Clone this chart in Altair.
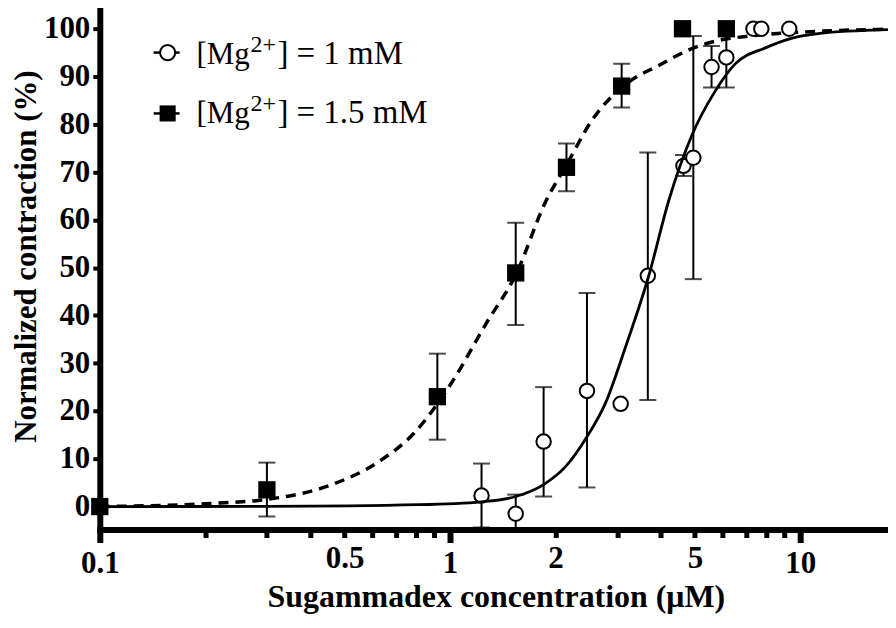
import altair as alt
import pandas as pd

# ---- data ----
sq_conc = [0.1, 0.3, 0.92, 1.54, 2.15, 3.09, 4.61, 6.15]
sq_resp = [0, 3.5, 23, 48.9, 71, 88, 100, 100]
sq_lo = [None, -2.1, 14, 38, 66, 83.5, None, None]
sq_hi = [None, 9.2, 32, 59.4, 76, 92.7, None, None]

ci_conc = [0.1, 1.23, 1.54, 1.85, 2.46, 3.07, 3.67, 4.64, 4.95, 5.58, 6.15, 7.35, 7.74, 9.3]
ci_resp = [0, 2.3, -1.5, 13.6, 24.2, 21.5, 48.3, 71.3, 73, 92, 94, 100, 100, 100]
ci_lo = [None, -4.4, -5.5, 2.1, 4, None, 22.3, 69.2, 47.6, 87.7, 87.7, None, None, None]
ci_hi = [None, 9, 2.5, 25, 44.7, None, 74.1, 73.6, 98.5, 96.4, 100.3, None, None, None]

fit15_conc = [0.1, 0.2, 0.3, 0.46, 0.62, 0.79, 1.01, 1.27, 1.54, 1.88, 2.15, 2.54, 3.22, 3.94, 4.89, 5.8, 7.2, 10.7, 17.8]
fit15_resp = [0, 0.6, 1.5, 4.6, 9.2, 15.4, 25.9, 38.4, 48.5, 64, 71.5, 80.8, 88.7, 92.3, 95.8, 97.5, 98.5, 99.4, 99.9]

fit1_conc = [0.1, 0.3, 0.82, 1.23, 1.54, 1.85, 2.14, 2.46, 2.78, 3.17, 3.69, 4.21, 4.89, 5.72, 6.53, 7.95, 9.43, 11.25, 17.8]
fit1_resp = [0, 0.05, 0.4, 1.0, 2.1, 4.6, 8.4, 14.6, 21.7, 33.4, 48.2, 64, 77.5, 87, 92.7, 96, 98, 99, 99.8]

x_ticks = [0.1, 0.2, 0.3, 0.4, 0.5, 0.6, 0.7, 0.8, 0.9, 1, 2, 3, 4, 5, 6, 7, 8, 9, 10]
y_ticks = [0, 10, 20, 30, 40, 50, 60, 70, 80, 90, 100]

legend_labels = ["] = 1 mM", "] = 1.5 mM"]

# ---- tables ----
sq = pd.DataFrame({"conc": sq_conc, "resp": sq_resp, "lo": sq_lo, "hi": sq_hi})
ci = pd.DataFrame({"conc": ci_conc, "resp": ci_resp, "lo": ci_lo, "hi": ci_hi})
err = pd.concat([sq, ci]).dropna(subset=["lo"])
fit15 = pd.DataFrame({"conc": fit15_conc, "resp": fit15_resp})
fit1 = pd.DataFrame({"conc": fit1_conc, "resp": fit1_resp})
one = pd.DataFrame({"k": [0]})

FONT = "Liberation Serif"
major = "abs(log(datum.value) / LN10 - round(log(datum.value) / LN10)) < 0.001"

x_axis = alt.Axis(
    values=x_ticks,
    labelExpr="indexof([0.1, 0.5, 1, 2, 5, 10], datum.value) >= 0 ? format(datum.value, '~g') : ''",
    tickSize={"condition": {"test": major, "value": 13}, "value": 8},
    tickWidth={"condition": {"test": major, "value": 6}, "value": 5},
    labelPadding=6,
    tickColor="black",
    domainWidth=6, domainColor="black", domainCap="square",
    labelFont=FONT, labelFontSize=31, labelFontWeight="bold", labelColor="black",
    labelFlush=False, labelOverlap=False,
    title="Sugammadex concentration (μM)",
    titleFont=FONT, titleFontSize=32, titleFontWeight="bold", titleColor="black",
    titleX=397, titleY=77, titleBaseline="alphabetic", titleAlign="center",
    grid=False,
)
y_axis = alt.Axis(
    values=y_ticks,
    tickSize=7, tickWidth=4, tickColor="black",
    domainWidth=6, domainColor="black", domainCap="square",
    labelFont=FONT, labelFontSize=31, labelFontWeight="bold", labelColor="black",
    labelPadding=3, labelFlush=False,
    title="Normalized contraction (%)",
    titleFont=FONT, titleFontSize=31, titleFontWeight="bold", titleColor="black",
    titleAngle=270, titleX=-64, titleY=248, titleBaseline="alphabetic", titleAlign="center",
    grid=False,
)

x_scale = alt.Scale(type="log", domain=[0.1, 17.8], nice=False)
y_scale = alt.Scale(domain=[-4.8, 104.2], nice=False, zero=False)

X = alt.X("conc:Q", scale=x_scale, axis=x_axis)
Y = alt.Y("resp:Q", scale=y_scale, axis=y_axis)

rules = alt.Chart(err).mark_rule(color="black", strokeWidth=2, clip=True).encode(
    x=X, y=alt.Y("lo:Q", scale=y_scale, axis=y_axis), y2="hi:Q"
)
caps_lo = alt.Chart(err).mark_tick(color="black", orient="horizontal", size=17, thickness=2, clip=True).encode(
    x=X, y=alt.Y("lo:Q", scale=y_scale, axis=y_axis)
)
caps_hi = alt.Chart(err).mark_tick(color="black", orient="horizontal", size=17, thickness=2, clip=True).encode(
    x=X, y=alt.Y("hi:Q", scale=y_scale, axis=y_axis)
)
circles = alt.Chart(ci).mark_point(
    shape="circle", filled=True, fill="white", stroke="black", strokeWidth=2, size=210, opacity=1
).encode(x=X, y=Y)
line15 = alt.Chart(fit15).mark_line(
    color="black", strokeWidth=3.5, strokeDash=[10, 7], interpolate="monotone"
).encode(x=X, y=Y)
line1 = alt.Chart(fit1).mark_line(
    color="black", strokeWidth=2.8, interpolate="monotone"
).encode(x=X, y=Y)
squares = alt.Chart(sq).mark_square(color="black", size=300, opacity=1).encode(x=X, y=Y)

# ---- legend (custom, in pixel space) ----
def leg_row(y_main, y_sup, y_sym, label, filled):
    base = alt.Chart(one)
    line = base.mark_rule(color="black", strokeWidth=2.5).encode(
        x=alt.value(54), x2=alt.value(80), y=alt.value(y_sym)
    )
    if filled:
        sym = base.mark_square(color="black", size=260, opacity=1).encode(
            x=alt.value(68), y=alt.value(y_sym)
        )
    else:
        sym = base.mark_point(shape="circle", filled=True, fill="white", stroke="black",
                              strokeWidth=2, size=230, opacity=1).encode(
            x=alt.value(68), y=alt.value(y_sym)
        )
    t1 = base.mark_text(text="[Mg", font=FONT, fontSize=31, align="left", baseline="alphabetic",
                        color="black").encode(x=alt.value(97), y=alt.value(y_main))
    t2 = base.mark_text(text="2+", font=FONT, fontSize=24, align="left", baseline="alphabetic",
                        color="black").encode(x=alt.value(151), y=alt.value(y_sup))
    t3 = base.mark_text(text=label, font=FONT, fontSize=33, align="left", baseline="alphabetic",
                        color="black").encode(x=alt.value(178), y=alt.value(y_main))
    return [line, sym, t1, t2, t3]

legend = leg_row(55, 43, 44, legend_labels[0], False) + leg_row(115, 103, 105, legend_labels[1], True)

chart = alt.layer(
    line15, rules, caps_lo, caps_hi, circles, line1, squares, *legend
).properties(
    width=790, height=522,
    autosize=alt.AutoSizeParams(type="none"),
    padding={"left": 92, "top": 0, "right": 0, "bottom": 84},
    background="white",
).configure_view(stroke=None)

chart.save("out.html", embed_options={"renderer": "svg", "actions": False})
